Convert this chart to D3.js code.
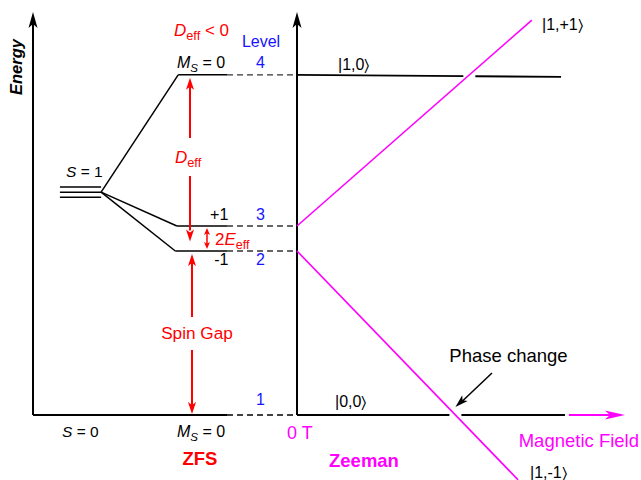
<!DOCTYPE html>
<html>
<head>
<meta charset="utf-8">
<script src="https://cdn.jsdelivr.net/npm/d3@7"></script>
<style>
  body { margin: 0; background: #fff; }
  text { font-family: Arial, "Liberation Sans", sans-serif; }
</style>
</head>
<body>
<div id="chart"></div>
<script>
// energy levels (arbitrary units, S=0 ground state = 0)
const levelNumbers = [1, 2, 3, 4];
const levelMs = ["0", "-1", "+1", "0"];
const levelEnergies = [0, 40.7, 46.9, 84.4];
const tripletEnergy = 55.3;          // degenerate S = 1 before ZFS
const tripletSpread = 1.25;

// Zeeman branches vs magnetic field (field in 0..1 of the axis)
const zeemanLabels = ["|1,+1\u232A", "|1,0\u232A", "|0,0\u232A", "|1,-1\u232A"];
const zeemanColors = ["#ff00ff", "#000", "#000", "#ff00ff"];
const zeemanE0 = [46.9, 84.4, 0, 40.7];
const zeemanFieldEnd = [0.716, 0.805, 0.817, 0.674];
const zeemanEEnd = [98, 83.9, 0, -16.1];

const width = 641, height = 480;
const svg = d3.select("#chart").append("svg")
  .attr("width", width).attr("height", height)
  .attr("xmlns", "http://www.w3.org/2000/svg");

// scales
const y = d3.scaleLinear().domain([0, 100]).range([415, 12]);
const xZfs = d3.scaleLinear().domain([0, 1]).range([33, 297]);   // ZFS panel
const xB = d3.scaleLinear().domain([0, 1]).range([297, 625]);    // field panel

// arrow head helper, pointing in direction (dx,dy) with tip at (tx,ty)
function head(g, tx, ty, dx, dy, len, w, color) {
  const n = Math.hypot(dx, dy); dx /= n; dy /= n;
  const px = -dy, py = dx;
  const bx = tx - dx * len, by = ty - dy * len;
  const nx = tx - dx * len * 0.75, ny = ty - dy * len * 0.75;
  g.append("path")
    .attr("d", `M${tx},${ty}L${bx + px * w / 2},${by + py * w / 2}L${nx},${ny}L${bx - px * w / 2},${by - py * w / 2}Z`)
    .attr("fill", color);
}

function line(g, x1, y1, x2, y2, color, sw, dash) {
  const l = g.append("line").attr("x1", x1).attr("y1", y1).attr("x2", x2).attr("y2", y2)
    .attr("stroke", color).attr("stroke-width", sw);
  if (dash) l.attr("stroke-dasharray", dash);
  return l;
}

const g = svg.append("g");

// axes
line(g, xZfs(0), y(0), xZfs(0), y(100) + 12, "#000", 2);
head(g, xZfs(0), y(100), 0, -1, 16, 9, "#000");
line(g, xZfs(1), y(0), xZfs(1), y(100) + 12, "#000", 2);
head(g, xZfs(1), y(100), 0, -1, 16, 9, "#000");
g.append("text").attr("transform", `translate(22,67) rotate(-90)`)
  .attr("text-anchor", "middle").attr("font-size", 16.5).attr("font-weight", "bold")
  .attr("font-style", "italic").text("Energy");

// ground level S=0 -> solid then dashed
line(g, xZfs(0), y(0), xZfs(0.735), y(0), "#000", 2);
line(g, xZfs(0.735), y(0), xZfs(1), y(0), "#000", 1.3, "6,4");

// S = 1 triplet
[-1, 0, 1].forEach(k => {
  line(g, xZfs(0.102), y(tripletEnergy + k * tripletSpread), xZfs(0.258), y(tripletEnergy + k * tripletSpread), "#000", 1.5);
});
const split = { x: xZfs(0.258), y: y(tripletEnergy) };
const msStart = [0, 0.539, 0.545, 0.550];
levelEnergies.forEach((e, i) => {
  if (i === 0) return;
  line(g, split.x, split.y, xZfs(msStart[i]), y(e), "#000", 1.5);
  line(g, xZfs(msStart[i]), y(e), xZfs(0.735), y(e), "#000", 1.5);
  line(g, xZfs(0.735), y(e), xZfs(1), y(e), "#333", 1.3, "6,4");
});

// labels on ZFS side
const blue = "#1515ff", red = "#ff0000", mag = "#ff00ff";
function msLabel(xp, yp, val) {
  const t = g.append("text").attr("x", xp).attr("y", yp).attr("font-size", 16);
  t.append("tspan").attr("font-style", "italic").text("M");
  t.append("tspan").attr("font-style", "italic").attr("font-size", 11.5).attr("dy", 4).text("S");
  t.append("tspan").attr("dy", -4).text(" = " + val);
}
msLabel(177, y(levelEnergies[3]) - 7, levelMs[3]);
msLabel(177, 437, levelMs[0]);
g.append("text").attr("x", xZfs(0.74)).attr("y", y(levelEnergies[2]) - 6).attr("font-size", 16)
  .attr("text-anchor", "end").text(levelMs[2]);
g.append("text").attr("x", xZfs(0.74)).attr("y", y(levelEnergies[1]) + 14).attr("font-size", 16)
  .attr("text-anchor", "end").text(levelMs[1]);
const numY = [y(levelEnergies[0]) - 10, y(levelEnergies[1]) + 14, y(levelEnergies[2]) - 6, y(levelEnergies[3]) - 7];
levelNumbers.forEach((n, i) => {
  g.append("text").attr("x", xZfs(0.862)).attr("y", numY[i]).attr("font-size", 16)
    .attr("text-anchor", "middle").attr("fill", blue).text(n);
});
g.append("text").attr("x", 261).attr("y", 47).attr("font-size", 16)
  .attr("text-anchor", "middle").attr("fill", blue).text("Level");

function sLabel(xp, yp, val) {
  const t = g.append("text").attr("x", xp).attr("y", yp).attr("font-size", 15.5);
  t.append("tspan").attr("font-style", "italic").text("S");
  t.append("tspan").text(" = " + val);
}
sLabel(66, 177, 1);
sLabel(62, 437, 0);

function dEff(xp, yp, rest, size) {
  const t = g.append("text").attr("x", xp).attr("y", yp).attr("font-size", size).attr("fill", red);
  t.append("tspan").attr("font-style", "italic").text("D");
  t.append("tspan").attr("font-size", size * 0.75).attr("dy", 4).text("eff");
  if (rest) t.append("tspan").attr("dy", -4).text(rest);
}
dEff(174, 36, " < 0", 17);
dEff(175, 163, null, 17);
const te = g.append("text").attr("x", 215).attr("y", 245).attr("font-size", 17).attr("fill", red);
te.append("tspan").text("2");
te.append("tspan").attr("font-style", "italic").text("E");
te.append("tspan").attr("font-size", 12.5).attr("dy", 4).text("eff");

// red arrows
const ax = 190;
line(g, ax, y(levelEnergies[3]) + 12, ax, 138, red, 2);
head(g, ax, y(levelEnergies[3]) + 3, 0, -1, 12, 8, red);
const midE = (levelEnergies[1] + levelEnergies[2]) / 2;
line(g, ax, 176, ax, y(midE) - 8, red, 2);
head(g, ax, y(midE) + 3, 0, 1, 12, 8, red);

const ex = 207;
line(g, ex, y(levelEnergies[2]) + 6, ex, y(levelEnergies[1]) - 6, red, 1.5);
head(g, ex, y(levelEnergies[2]) + 2, 0, -1, 7, 6, red);
head(g, ex, y(levelEnergies[1]) - 2, 0, 1, 7, 6, red);

const sx = 192;
line(g, sx, y(levelEnergies[1]) + 12, sx, 317, red, 2);
head(g, sx, y(levelEnergies[1]) + 3, 0, -1, 12, 8, red);
line(g, sx, 350, sx, y(0) - 8, red, 2);
head(g, sx, y(0) - 1, 0, 1, 12, 8, red);
g.append("text").attr("x", 197).attr("y", 339).attr("font-size", 17.2).attr("fill", red)
  .attr("text-anchor", "middle").text("Spin Gap");

g.append("text").attr("x", 200).attr("y", 465).attr("font-size", 18.5).attr("font-weight", "bold")
  .attr("fill", red).attr("text-anchor", "middle").text("ZFS");

// Zeeman panel
const segs = zeemanLabels.map((lab, i) => ({
  x1: xB(0), y1: y(zeemanE0[i]), x2: xB(zeemanFieldEnd[i]), y2: y(zeemanEEnd[i]), color: zeemanColors[i]
}));
function crossX(h, d) {
  // x where diagonal d crosses y of horizontal h
  const t = (h.y1 - d.y1) / (d.y2 - d.y1);
  return d.x1 + t * (d.x2 - d.x1);
}
// diagonals
[0, 3].forEach(i => line(g, segs[i].x1, segs[i].y1, segs[i].x2, segs[i].y2, mag, 1.6));
// horizontals with gaps where crossed
[[1, 0], [2, 3]].forEach(([hi, di]) => {
  const h = segs[hi], cx = crossX(h, segs[di]);
  const yAt = xx => h.y1 + (xx - h.x1) / (h.x2 - h.x1) * (h.y2 - h.y1);
  line(g, h.x1, h.y1, cx - 6, yAt(cx - 6), "#000", 1.8);
  line(g, cx + 6, yAt(cx + 6), h.x2, h.y2, "#000", 1.8);
});
const zlPos = [[542, 30], [338, 70], [335, 407], [530, 478]];
zeemanLabels.forEach((lab, i) => {
  g.append("text").attr("x", zlPos[i][0]).attr("y", zlPos[i][1]).attr("font-size", 16).text(lab);
});

// field arrow
line(g, xB(0.829), y(0), xB(1) - 12, y(0), mag, 2);
head(g, xB(1), y(0), 1, 0, 20, 9, mag);
g.append("text").attr("x", 639).attr("y", 447).attr("font-size", 18.5).attr("fill", mag)
  .attr("text-anchor", "end").text("Magnetic Field");
g.append("text").attr("x", 287).attr("y", 439).attr("font-size", 18).attr("fill", mag).text("0 T");
g.append("text").attr("x", 329).attr("y", 467).attr("font-size", 18.5).attr("font-weight", "bold")
  .attr("fill", mag).text("Zeeman");

// phase change annotation
const pcx = crossX(segs[2], segs[3]);
line(g, 492, 373, pcx + 6, y(0) - 13, "#000", 1.5);
head(g, pcx, y(0) - 8, pcx - 492, y(0) - 8 - 373, 13, 8, "#000");
g.append("text").attr("x", 508.5).attr("y", 362).attr("font-size", 18.5)
  .attr("text-anchor", "middle").text("Phase change");
</script>
</body>
</html>
